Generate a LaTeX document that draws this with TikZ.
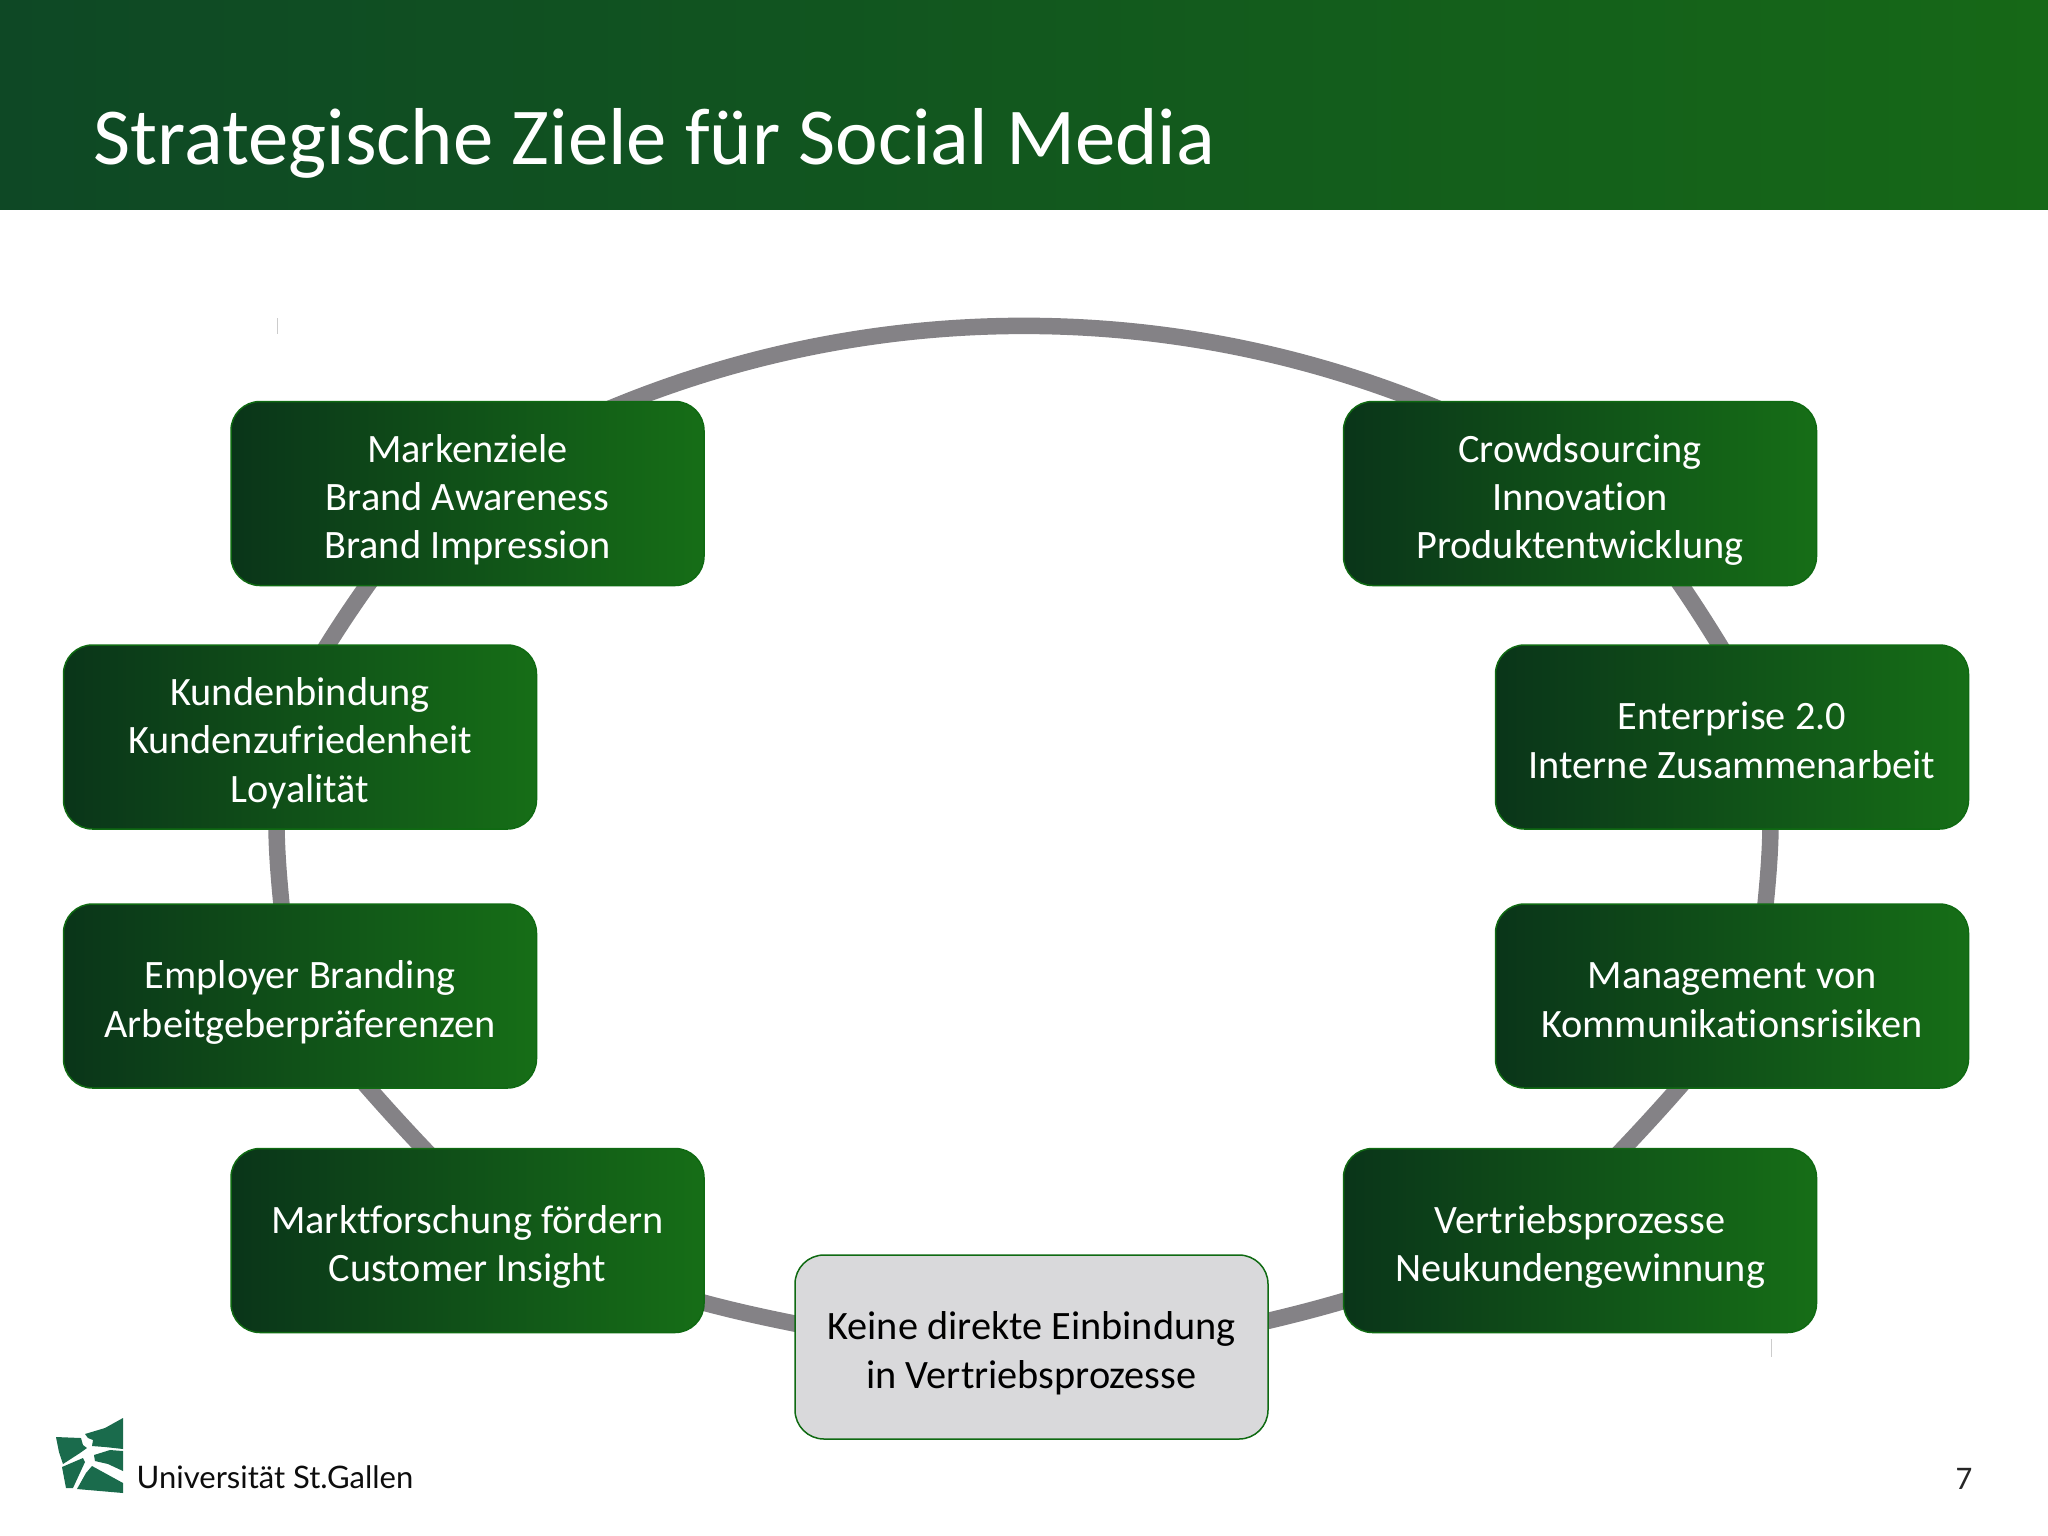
\documentclass[tikz,border=0pt]{standalone}
\usepackage{fontspec}
\setmainfont[Ligatures=NoCommon]{Carlito}
\newfontfamily\logofont{Lato}
\usetikzlibrary{backgrounds}
\definecolor{ringgrey}{HTML}{848286}
\definecolor{boxedge}{HTML}{0F6A12}
\definecolor{boxleft}{HTML}{0A3519}
\definecolor{boxright}{HTML}{166E17}
\definecolor{headleft}{HTML}{0E4825}
\definecolor{headright}{HTML}{166817}
\definecolor{greyfill}{HTML}{D9D9DB}
\definecolor{logogreen}{HTML}{1A6B4C}
\newcommand{\tops}{\rule{0pt}{48.4pt}}
\newcommand{\bots}{\rule[-14.5pt]{0pt}{1pt}}
\tikzset{
  goalbox/.style={rounded corners=29pt,draw=boxedge,line width=1.5pt,left color=boxleft,right color=boxright,
    minimum width=473pt,minimum height=184pt,inner sep=0pt,outer sep=0pt,text=white,align=center,
    font=\fontsize{40.3}{48.3}\selectfont},
  nogoalbox/.style={goalbox,left color=greyfill,right color=greyfill,text=black},
  ring/.style={draw=ringgrey,line width=16.5pt},
  logoshape/.style={fill=logogreen,draw=none},
  tickmark/.style={draw=black!20,line width=1pt}
}
\begin{document}
\begin{tikzpicture}[x=1pt,y=-1pt]
\useasboundingbox (0,0) rectangle (2048,1535);
\fill[left color=headleft,right color=headright] (0,0) rectangle (2048,209);
\node[anchor=base west,inner sep=0pt,text=white,font=\fontsize{80.75}{96}\selectfont] (title) at (93.5,164.5) {Strategische Ziele für Social Media};

\node[goalbox] (marke) at (467.5,493.5) {\tops Markenziele\\Brand Awareness\\Brand Impression\bots};
\node[goalbox] (kunde) at (300,737) {\tops Kundenbindung\\Kundenzufriedenheit\\Loyalität\bots};
\node[goalbox] (employer) at (300,996) {\tops Employer Branding\\Arbeitgeberpräferenzen\bots};
\node[goalbox] (markt) at (467.5,1240.5) {\tops Marktforschung fördern\\Customer Insight\bots};
\node[nogoalbox] (keine) at (1031.5,1347) {\tops Keine direkte Einbindung\\in Vertriebsprozesse\bots};
\node[goalbox] (vertrieb) at (1580,1240.5) {\tops Vertriebsprozesse\\Neukundengewinnung\bots};
\node[goalbox] (risiko) at (1732,996) {\tops Management von\\Kommunikationsrisiken\bots};
\node[goalbox] (enterprise) at (1732,737) {\tops Enterprise 2.0\\Interne Zusammenarbeit\bots};
\node[goalbox] (crowd) at (1580,493.5) {\tops Crowdsourcing\\Innovation\\Produktentwicklung\bots};

\begin{scope}[on background layer]
\draw[ring] ([xshift=112.5pt,yshift=-20pt]marke.north) .. controls (862,294) and (1186,294) .. ([xshift=-112pt,yshift=-20pt]crowd.north);
\draw[ring] ([xshift=-89.5pt,yshift=15pt]marke.south) .. controls (357,599.5) and (337,629) .. ([xshift=18pt,yshift=-15.5pt]kunde.north);
\draw[ring] ([xshift=-23.5pt,yshift=15.5pt]kunde.south) .. controls (276,850) and (279.5,885) .. ([xshift=-17pt,yshift=-15.5pt]employer.north);
\draw[ring] ([xshift=55pt,yshift=15.5pt]employer.south) .. controls (382,1104) and (410,1134.5) .. ([xshift=-28.5pt,yshift=-16pt]markt.north);
\draw[ring] ([xshift=-20.5pt,yshift=-56.5pt]markt.east) .. controls (728,1310) and (771,1319) .. ([xshift=20.5pt,yshift=19.4pt]keine.west);
\draw[ring] ([xshift=-20.5pt,yshift=21.5pt]keine.east) .. controls (1286,1317) and (1325,1307) .. ([xshift=20pt,yshift=-54.5pt]vertrieb.west);
\draw[ring] ([xshift=28pt,yshift=-16pt]vertrieb.north) .. controls (1637,1134.5) and (1665,1104) .. ([xshift=-40pt,yshift=15.5pt]risiko.south);
\draw[ring] ([xshift=32pt,yshift=-15.5pt]risiko.north) .. controls (1767.5,885) and (1771,850) .. ([xshift=38.5pt,yshift=15.5pt]enterprise.south);
\draw[ring] ([xshift=-3pt,yshift=-15.5pt]enterprise.north) .. controls (1710,629) and (1691,599) .. ([xshift=90pt,yshift=16pt]crowd.south);
\end{scope}

\draw[tickmark] (277,318) -- (277,334);
\draw[tickmark] (1771,1339) -- (1771,1357);

% logo
\fill[logoshape] (85,1434) -- (105,1428) -- (123,1418) -- (123,1449) -- (105,1447) -- (92,1446) -- (93,1440) -- (88,1438) -- cycle;
\fill[logoshape] (56,1437) -- (81,1438) -- (83,1445) -- (87,1448) -- (80,1453) -- (63,1464) -- (59,1452) -- cycle;
\fill[logoshape] (94,1455) -- (110,1450) -- (123,1451) -- (123,1471) -- (108,1464) -- (95,1461) -- cycle;
\fill[logoshape] (62,1467) -- (83,1458) -- (85,1462) -- (73,1488) -- (66,1488) -- cycle;
\fill[logoshape] (92,1466) -- (123,1483) -- (123,1493) -- (77,1489) -- (86,1473) -- cycle;
\node[anchor=base west,inner sep=0pt,text=black!95,font=\logofont\fontsize{31}{38}\selectfont] (logotext) at (136.5,1488) {Universität St.Gallen};

\node[anchor=base,inner sep=0pt,text=black!85,font=\fontsize{33}{40}\selectfont] (pagenum) at (1964,1489) {7};
\end{tikzpicture}
\end{document}
